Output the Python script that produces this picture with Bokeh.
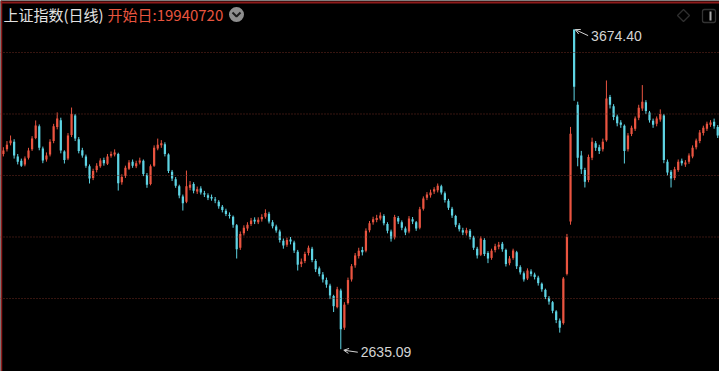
import numpy as np
from bokeh.plotting import figure
from bokeh.models import (Range1d, Span, Label, Arrow, OpenHead, PolyAnnotation,
                          BoxAnnotation, ColumnDataSource)
from bokeh.core.properties import value
from bokeh.embed import file_html
from bokeh.resources import INLINE

# ---------------- data ----------------
title_name = "上证指数(日线)"
title_start = "开始日:19940720"
grid_levels = [2800, 3000, 3200, 3400, 3600]

opens = [
    3270, 3285, 3305, 3310, 3262, 3248, 3236, 3258, 3285, 3322,
    3360, 3288, 3252, 3268, 3312, 3358, 3380, 3278, 3255, 3332,
    3395, 3318, 3282, 3262, 3230, 3192, 3218, 3230, 3250, 3238,
    3264, 3268, 3270, 3178, 3198, 3222, 3245, 3230, 3242, 3248,
    3202, 3172, 3232, 3288, 3298, 3302, 3268, 3212, 3188, 3165,
    3132, 3115, 3160, 3172, 3148, 3158, 3142, 3136, 3130, 3122,
    3115, 3098, 3085, 3072, 3066, 3038, 2965, 3012, 3028, 3042,
    3056, 3048, 3058, 3066, 3076, 3048, 3034, 3018, 2988, 2975,
    2992, 2982, 2952, 2912, 2922, 2948, 2962, 2922, 2898, 2878,
    2860, 2842, 2808, 2772, 2826, 2705, 2785, 2862, 2908, 2938,
    2958, 2955, 3022, 3048, 3055, 3060, 3068, 3042, 3018, 2998,
    3062, 3048, 3028, 3018, 3058, 3048, 3030, 3092, 3128, 3136,
    3148, 3152, 3165, 3142, 3118, 3092, 3068, 3038, 3022, 3012,
    3020, 2998, 2962, 2942, 2990, 2948, 2932, 2958, 2968, 2978,
    2958, 2915, 2932, 2950, 2902, 2882, 2865, 2888, 2878, 2868,
    2848, 2828, 2802, 2788, 2758, 2728, 2720, 2880, 3050, 3674.4,
    3430, 3265, 3218, 3185, 3258, 3305, 3292, 3285, 3315, 3455,
    3425, 3392, 3372, 3362, 3285, 3335, 3352, 3388, 3418, 3438,
    3405, 3378, 3368, 3382, 3395, 3245, 3212, 3192, 3218, 3248,
    3236, 3245, 3262, 3292, 3312, 3338, 3352, 3365, 3375, 3358,
]
highs = [
    3292, 3312, 3330, 3318, 3270, 3255, 3262, 3290, 3328, 3379,
    3366, 3294, 3275, 3318, 3368, 3405, 3388, 3282, 3338, 3421,
    3400, 3325, 3290, 3268, 3236, 3222, 3240, 3256, 3258, 3270,
    3278, 3285, 3274, 3204, 3232, 3250, 3252, 3248, 3258, 3252,
    3208, 3236, 3298, 3320, 3315, 3308, 3272, 3218, 3195, 3170,
    3138, 3216, 3182, 3178, 3164, 3165, 3150, 3142, 3138, 3130,
    3120, 3104, 3092, 3080, 3070, 3042, 3018, 3038, 3048, 3062,
    3064, 3064, 3074, 3090, 3082, 3055, 3040, 3024, 2995, 2998,
    3000, 2988, 2958, 2930, 2952, 2972, 2968, 2928, 2904, 2886,
    2868, 2848, 2812, 2838, 2832, 2788, 2868, 2912, 2948, 2965,
    2968, 3028, 3052, 3066, 3072, 3080, 3074, 3048, 3024, 3072,
    3068, 3054, 3034, 3068, 3065, 3052, 3098, 3132, 3146, 3154,
    3162, 3174, 3170, 3148, 3124, 3098, 3072, 3045, 3030, 3030,
    3026, 3004, 2968, 3002, 2996, 2954, 2962, 2978, 2984, 2984,
    2962, 2938, 2962, 2955, 2908, 2888, 2898, 2895, 2884, 2874,
    2852, 2832, 2808, 2792, 2762, 2735, 2870, 3010, 3358, 3674.4,
    3440, 3280, 3225, 3268, 3323, 3312, 3300, 3320, 3509, 3462,
    3432, 3398, 3380, 3366, 3338, 3362, 3392, 3430, 3494, 3445,
    3410, 3385, 3392, 3415, 3400, 3252, 3218, 3228, 3252, 3255,
    3250, 3272, 3298, 3320, 3348, 3362, 3375, 3380, 3385, 3364,
]
lows = [
    3262, 3278, 3298, 3255, 3236, 3228, 3230, 3252, 3280, 3318,
    3282, 3240, 3245, 3262, 3305, 3350, 3272, 3239, 3250, 3325,
    3312, 3272, 3258, 3225, 3174, 3185, 3210, 3225, 3232, 3234,
    3258, 3262, 3151, 3170, 3192, 3218, 3225, 3224, 3236, 3198,
    3160, 3168, 3228, 3282, 3290, 3262, 3208, 3182, 3160, 3126,
    3086, 3110, 3152, 3142, 3140, 3138, 3130, 3120, 3118, 3110,
    3092, 3080, 3068, 3060, 3030, 2930, 2958, 3005, 3020, 3036,
    3042, 3042, 3050, 3060, 3044, 3028, 3014, 2982, 2962, 2968,
    2976, 2948, 2891, 2902, 2915, 2940, 2918, 2886, 2872, 2852,
    2835, 2798, 2756, 2768, 2635.09, 2698, 2780, 2855, 2900, 2930,
    2940, 2950, 3015, 3040, 3048, 3054, 3038, 3012, 2985, 2992,
    3042, 3022, 3006, 3012, 3042, 3020, 3025, 3086, 3120, 3128,
    3140, 3145, 3138, 3112, 3088, 3062, 3032, 3018, 3006, 3005,
    2992, 2958, 2930, 2938, 2938, 2915, 2926, 2950, 2960, 2952,
    2904, 2908, 2926, 2896, 2878, 2855, 2860, 2872, 2862, 2842,
    2822, 2798, 2780, 2752, 2720, 2689, 2715, 2875, 3040, 3443,
    3230, 3205, 3161, 3178, 3250, 3280, 3270, 3278, 3310, 3418,
    3380, 3360, 3355, 3239, 3278, 3328, 3345, 3380, 3410, 3400,
    3372, 3355, 3360, 3375, 3240, 3200, 3161, 3185, 3212, 3232,
    3228, 3238, 3256, 3285, 3305, 3330, 3345, 3358, 3352, 3322,
]
closes = [
    3281, 3300, 3314, 3265, 3245, 3232, 3255, 3281, 3320, 3363,
    3290, 3249, 3265, 3310, 3360, 3385, 3281, 3250, 3330, 3400,
    3320, 3280, 3265, 3232, 3190, 3215, 3232, 3249, 3240, 3262,
    3270, 3275, 3175, 3195, 3225, 3242, 3232, 3240, 3249, 3205,
    3170, 3230, 3290, 3300, 3305, 3270, 3215, 3190, 3167, 3135,
    3110, 3165, 3170, 3150, 3155, 3145, 3138, 3128, 3125, 3119,
    3100, 3088, 3075, 3068, 3040, 2960, 3010, 3030, 3040, 3054,
    3050, 3056, 3065, 3078, 3050, 3035, 3021, 2990, 2972, 2990,
    2985, 2956, 2910, 2920, 2945, 2965, 2925, 2895, 2880, 2862,
    2845, 2810, 2775, 2830, 2700, 2780, 2860, 2905, 2940, 2955,
    2950, 3020, 3045, 3058, 3062, 3070, 3045, 3020, 2995, 3065,
    3050, 3030, 3015, 3060, 3050, 3028, 3090, 3125, 3138, 3145,
    3155, 3167, 3145, 3120, 3095, 3070, 3040, 3025, 3015, 3022,
    3000, 2965, 2940, 2995, 2945, 2930, 2955, 2970, 2975, 2960,
    2912, 2930, 2956, 2905, 2885, 2862, 2891, 2880, 2870, 2850,
    2830, 2805, 2790, 2760, 2730, 2705, 2865, 3000, 3336, 3489,
    3258, 3220, 3180, 3260, 3310, 3290, 3280, 3310, 3450, 3430,
    3390, 3370, 3365, 3280, 3330, 3355, 3385, 3420, 3440, 3410,
    3380, 3365, 3385, 3400, 3250, 3210, 3190, 3220, 3245, 3240,
    3242, 3265, 3290, 3314, 3340, 3355, 3368, 3372, 3360, 3330,
]

# ---------------- layout / style ----------------
W, H = 719, 371
n = len(closes)
X0, X1 = -0.8, n - 0.5
Y0, Y1 = 2562.6, 3769.1
PXU = W / (X1 - X0)          # pixels per index unit
PPY = (Y1 - Y0) / H          # price per pixel

RED = "#ea5440"
CYAN = "#5ed4e4"
GRID = "#6e2c22"
FRAME = "#8e1b1b"
LABEL = "#d4d4d4"


def sx(px):
    return X0 + px / PXU


def sy(py):
    return Y1 - py * PPY


o = np.array(opens, dtype=float)
c = np.array(closes, dtype=float)
hi = np.array(highs, dtype=float)
lo = np.array(lows, dtype=float)
x = np.arange(n)
colors = np.where(c >= o, RED, CYAN)

src = ColumnDataSource(dict(x=x, high=hi, low=lo,
                            top=np.maximum(o, c), bottom=np.minimum(o, c),
                            color=colors))

p = figure(width=W, height=H, x_range=Range1d(X0, X1), y_range=Range1d(Y0, Y1),
           output_backend="svg", toolbar_location=None, min_border=0,
           x_axis_location=None, y_axis_location=None,
           background_fill_color="black", border_fill_color="black",
           outline_line_color=None)
p.grid.visible = False

for lvl in grid_levels:
    p.add_layout(Span(location=lvl, dimension="width", line_color=GRID,
                      line_dash="1 2", line_width=1))

p.segment(x0="x", y0="high", x1="x", y1="low", line_color="color",
          line_width=1, source=src)
p.vbar(x="x", width=0.62, top="top", bottom="bottom", fill_color="color",
       line_color=None, source=src)

# frame lines (top and left)
p.add_layout(Span(location=sy(2), dimension="width", line_color=FRAME, line_width=2))
p.add_layout(Span(location=sx(1), dimension="height", line_color=FRAME, line_width=1.5))

# extreme annotations
i_max = int(np.argmax(hi))
i_min = int(np.argmin(lo))
vmax = hi[i_max]
vmin = lo[i_min]

p.add_layout(Arrow(end=OpenHead(size=5, line_color=LABEL, line_width=1),
                   x_start=i_max + 14 / PXU, y_start=vmax - 6 * PPY,
                   x_end=i_max + 0.3, y_end=vmax,
                   line_color=LABEL, line_width=1))
p.add_layout(Label(x=i_max, y=vmax, x_offset=17, y_offset=-6, text=f"{vmax:.2f}",
                   text_baseline="middle", text_align="left",
                   text_color=LABEL, text_font_size="14px",
                   text_font="Liberation Sans"))

p.add_layout(Arrow(end=OpenHead(size=5, line_color=LABEL, line_width=1),
                   x_start=i_min + 17 / PXU, y_start=vmin - 3 * PPY,
                   x_end=i_min + 3 / PXU, y_end=vmin - 1 * PPY,
                   line_color=LABEL, line_width=1))
p.add_layout(Label(x=i_min, y=vmin, x_offset=20, y_offset=-3, text=f"{vmin:.2f}",
                   text_baseline="middle", text_align="left",
                   text_color=LABEL, text_font_size="14px",
                   text_font="Liberation Sans"))

# title texts
p.add_layout(Label(x=3, y=H - 14, x_units="screen", y_units="screen",
                   text=title_name, text_baseline="middle", text_align="left",
                   text_color="#e2e2e2", text_font_size="15px",
                   text_font="Noto Sans CJK SC"))
p.add_layout(Label(x=107, y=H - 14, x_units="screen", y_units="screen",
                   text=title_start, text_baseline="middle", text_align="left",
                   text_color="#e8553f", text_font_size="15px",
                   text_font="Noto Sans CJK SC"))

# round dropdown icon
p.scatter(x=[sx(236)], y=[sy(14)], marker="circle", size=15,
          fill_color="#8e8e8e", line_color=None)
p.line(x=[sx(232), sx(236), sx(240)], y=[sy(12), sy(16), sy(12)],
       line_color="#1c1c1c", line_width=2)

# top-right icons
p.add_layout(PolyAnnotation(xs=[683, 689, 683, 677], ys=[H - 9, H - 15, H - 21, H - 15],
                            xs_units="screen", ys_units="screen",
                            fill_color=None, fill_alpha=0, line_color="#9c9c9c",
                            line_width=1.3))
p.add_layout(BoxAnnotation(left=702, right=715, top=H - 9, bottom=H - 22,
                           left_units="screen", right_units="screen",
                           top_units="screen", bottom_units="screen",
                           fill_color=None, fill_alpha=0, line_color="#a8a8a8",
                           line_width=1.3, border_radius=2))
p.add_layout(BoxAnnotation(left=709, right=711, top=H - 11, bottom=H - 20,
                           left_units="screen", right_units="screen",
                           top_units="screen", bottom_units="screen",
                           fill_color="#a8a8a8", fill_alpha=1, line_color=None))

open("out.html", "w").write(file_html(p, INLINE))
